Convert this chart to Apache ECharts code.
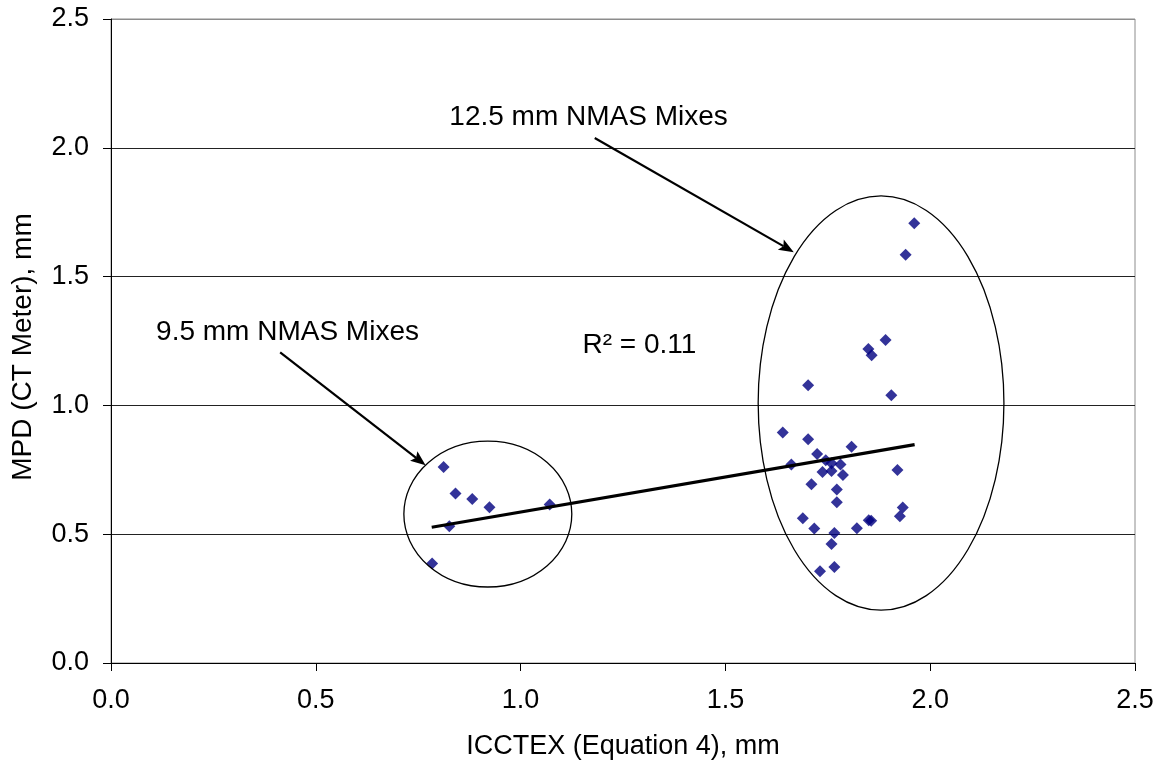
<!DOCTYPE html>
<html>
<head>
<meta charset="utf-8">
<script src="https://cdn.jsdelivr.net/npm/echarts@6/dist/echarts.min.js"></script>
<style>
  html, body { margin: 0; padding: 0; background: #fff; }
  #chart { width: 1163px; height: 767px; }
</style>
</head>
<body>
<div id="chart"></div>
<script>
// Axis tick values (mm)
const xTicks = [0.0, 0.5, 1.0, 1.5, 2.0, 2.5];
const yTicks = [0.0, 0.5, 1.0, 1.5, 2.0, 2.5];

// 9.5 mm NMAS mixes: ICCTEX (Eq. 4) and MPD (CT Meter), mm
const mix95Icctex = [0.784, 0.812, 0.826, 0.841, 0.882, 0.924, 1.071];
const mix95Mpd    = [0.386, 0.761, 0.531, 0.658, 0.637, 0.605, 0.615];

// 12.5 mm NMAS mixes: ICCTEX (Eq. 4) and MPD (CT Meter), mm
const mix125Icctex = [
  1.640, 1.702, 1.808, 1.724, 1.661, 1.745, 1.759, 1.781, 1.737, 1.759,
  1.787, 1.920, 1.710, 1.772, 1.772, 1.933, 1.926, 1.689, 1.850, 1.856,
  1.717, 1.821, 1.766, 1.759, 1.766, 1.731, 1.961, 1.940, 1.891, 1.849,
  1.857, 1.702, 1.905
];
const mix125Mpd = [
  0.895, 0.869, 0.839, 0.811, 0.771, 0.787, 0.775, 0.771, 0.741, 0.745,
  0.730, 0.749, 0.694, 0.674, 0.624, 0.604, 0.570, 0.562, 0.554, 0.552,
  0.522, 0.523, 0.505, 0.462, 0.373, 0.356, 1.707, 1.585, 1.254, 1.219,
  1.195, 1.078, 1.039
];

// Linear trend line end points and its R squared
const fitIcctex = [0.783, 1.962];
const fitMpd    = [0.527, 0.848];
const rSquared  = '0.11';

// Annotation layout, in axis units
const FONT = '"Liberation Sans", Arial, Helvetica, sans-serif';
const groupEllipses = [
  { cx: 0.920, cy: 0.578, rx: 0.205, ry: 0.283 },
  { cx: 1.880, cy: 1.009, rx: 0.300, ry: 0.804 }
];
const groupArrows = [
  { from: [0.413, 1.206], to: [0.768, 0.768] },
  { from: [1.181, 2.038], to: [1.667, 1.595] }
];
const groupNotes = [
  { text: '9.5 mm NMAS Mixes',  at: [0.110, 1.285] },
  { text: '12.5 mm NMAS Mixes', at: [0.826, 2.120] },
  { text: 'R\u00B2 = ' + rSquared, at: [1.151, 1.234] }
];

const zip = (xs, ys) => xs.map((x, i) => [x, ys[i]]);

function renderAnnotations(params, api) {
  const children = [];
  groupEllipses.forEach(e => {
    const c = api.coord([e.cx, e.cy]);
    const s = api.size([e.rx, e.ry]);
    const rx = s[0], ry = s[1];
    children.push({
      type: 'path',
      shape: {
        pathData: `M${c[0] - rx} ${c[1]} A${rx} ${ry} 0 1 0 ${c[0] + rx} ${c[1]} A${rx} ${ry} 0 1 0 ${c[0] - rx} ${c[1]} Z`
      },
      style: { fill: 'none', stroke: '#000', lineWidth: 1.3 }
    });
  });
  groupArrows.forEach(a => {
    const p0 = api.coord(a.from), p1 = api.coord(a.to);
    const dx = p1[0] - p0[0], dy = p1[1] - p0[1];
    const L = Math.hypot(dx, dy), ux = dx / L, uy = dy / L;
    const px = -uy, py = ux;
    const headLen = 15, headW = 6, notch = 3;
    const bx = p1[0] - ux * headLen, by = p1[1] - uy * headLen;
    children.push({
      type: 'line',
      shape: { x1: p0[0], y1: p0[1], x2: bx + ux * notch, y2: by + uy * notch },
      style: { stroke: '#000', lineWidth: 2.2 }
    });
    children.push({
      type: 'polygon',
      shape: {
        points: [
          [p1[0], p1[1]],
          [bx + px * headW, by + py * headW],
          [bx + ux * notch, by + uy * notch],
          [bx - px * headW, by - py * headW]
        ]
      },
      style: { fill: '#000' }
    });
  });
  groupNotes.forEach(n => {
    const p = api.coord(n.at);
    children.push({
      type: 'text',
      x: p[0], y: p[1],
      style: {
        text: n.text, fill: '#000', fontSize: 28, fontFamily: FONT,
        align: 'left', verticalAlign: 'middle'
      }
    });
  });
  return { type: 'group', children };
}

const chart = echarts.init(document.getElementById('chart'), null, { renderer: 'canvas' });

const axisText = { color: '#000', fontSize: 27, fontFamily: FONT };

chart.setOption({
  animation: false,
  backgroundColor: '#fff',
  grid: {
    left: 111, right: 28, top: 19, bottom: 104,
    show: true, borderColor: '#8c8c8c', borderWidth: 1, backgroundColor: 'transparent'
  },
  xAxis: {
    type: 'value',
    min: xTicks[0], max: xTicks[xTicks.length - 1], interval: xTicks[1] - xTicks[0],
    axisLine: { show: true, onZero: false, lineStyle: { color: '#000', width: 1 } },
    axisTick: { show: true, inside: false, length: 8, lineStyle: { color: '#000' } },
    axisLabel: Object.assign({ margin: 24, formatter: v => v.toFixed(1) }, axisText),
    splitLine: { show: false },
    name: 'ICCTEX (Equation 4), mm',
    nameLocation: 'middle', nameGap: 70,
    nameTextStyle: axisText
  },
  yAxis: {
    type: 'value',
    min: yTicks[0], max: yTicks[yTicks.length - 1], interval: yTicks[1] - yTicks[0],
    axisLine: { show: true, onZero: false, lineStyle: { color: '#000', width: 1 } },
    axisTick: { show: true, inside: false, length: 8, lineStyle: { color: '#000' } },
    axisLabel: Object.assign({ margin: 22, formatter: v => v.toFixed(1) }, axisText),
    splitLine: {
      show: true,
      lineStyle: { color: ['#222', '#222', '#222', '#222', '#222', '#8c8c8c'], width: 1 }
    },
    name: 'MPD (CT Meter), mm',
    nameLocation: 'middle', nameGap: 74, nameRotate: 90,
    nameTextStyle: Object.assign({}, axisText, { fontSize: 28, padding: [0, 12, 0, 0] })
  },
  series: [
    {
      name: '9.5 mm NMAS',
      type: 'scatter',
      symbol: 'diamond', symbolSize: 12,
      itemStyle: { color: '#000080' },
      data: zip(mix95Icctex, mix95Mpd),
      z: 3
    },
    {
      name: '12.5 mm NMAS',
      type: 'scatter',
      symbol: 'diamond', symbolSize: 12,
      itemStyle: { color: '#000080' },
      data: zip(mix125Icctex, mix125Mpd),
      z: 3
    },
    {
      name: 'Linear fit',
      type: 'line',
      showSymbol: false, symbol: 'none',
      lineStyle: { color: '#000', width: 3.2 },
      data: zip(fitIcctex, fitMpd),
      z: 4
    },
    {
      name: 'Groups',
      type: 'custom',
      renderItem: renderAnnotations,
      data: [[0]],
      clip: false,
      silent: true,
      z: 5
    }
  ]
});
</script>
</body>
</html>
